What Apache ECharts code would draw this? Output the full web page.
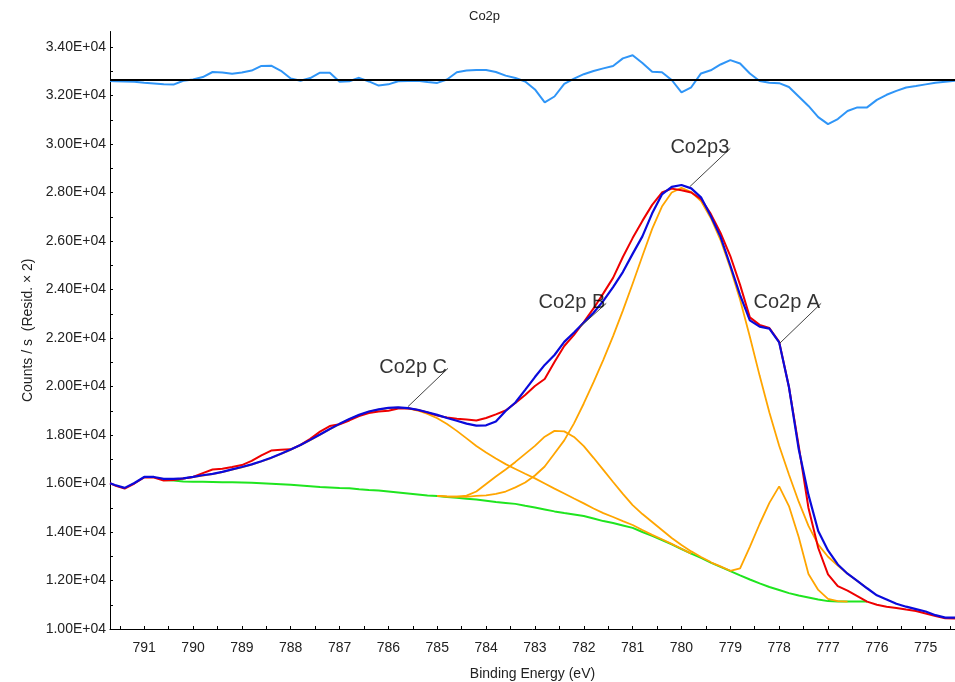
<!DOCTYPE html>
<html>
<head>
<meta charset="utf-8">
<title>Co2p</title>
<script src="https://cdn.jsdelivr.net/npm/echarts@6/dist/echarts.min.js"></script>
<style>
  html, body { margin: 0; padding: 0; background: #ffffff; }
  #chart { width: 955px; height: 682px; }
</style>
</head>
<body>
<div id="chart"></div>
<script>
// Binding energy grid (eV), shared by every curve
const energy = [
  791.7, 791.6, 791.4, 791.2, 791.0, 790.8, 790.6, 790.4, 790.2, 790.0,
  789.8, 789.6, 789.4, 789.2, 789.0, 788.8, 788.6, 788.4, 788.2, 788.0,
  787.8, 787.6, 787.4, 787.2, 787.0, 786.8, 786.6, 786.4, 786.2, 786.0,
  785.8, 785.6, 785.4, 785.2, 785.0, 784.8, 784.6, 784.4, 784.2, 784.0,
  783.8, 783.6, 783.4, 783.2, 783.0, 782.8, 782.6, 782.4, 782.2, 782.0,
  781.8, 781.6, 781.4, 781.2, 781.0, 780.8, 780.6, 780.4, 780.2, 780.0,
  779.8, 779.6, 779.4, 779.2, 779.0, 778.8, 778.6, 778.4, 778.2, 778.0,
  777.8, 777.6, 777.4, 777.2, 777.0, 776.8, 776.6, 776.4, 776.2, 776.0,
  775.8, 775.6, 775.4, 775.2, 775.0, 774.8, 774.6, 774.4
];

// Measured spectrum (counts / s)
const rawCounts = [
  16010, 15920, 15790, 16000, 16250, 16250, 16120, 16140, 16210, 16270,
  16430, 16580, 16610, 16680, 16760, 16930, 17160, 17360, 17390, 17410,
  17590, 17840, 18140, 18370, 18440, 18600, 18780, 18910, 18970, 19000,
  19090, 19100, 19030, 18930, 18800, 18720, 18670, 18640, 18600, 18700,
  18850, 19010, 19320, 19650, 20020, 20310, 21010, 21670, 22130, 22660,
  23220, 23840, 24480, 25340, 26120, 26830, 27490, 28000, 28160, 28090,
  28000, 27730, 27120, 26330, 25380, 24190, 22850, 22540, 22410, 21840,
  19980, 17550, 14990, 13340, 12250, 11770, 11580, 11360, 11130, 11000,
  10920, 10870, 10800, 10740, 10640, 10540, 10440, 10430
];

// Fitted envelope
const envelope = [
  16010, 15940, 15820, 16020, 16270, 16270, 16190, 16190, 16210, 16270,
  16340, 16400, 16480, 16580, 16680, 16790, 16920, 17060, 17230, 17400,
  17590, 17800, 18020, 18250, 18460, 18660, 18830, 18970, 19060, 19120,
  19140, 19110, 19040, 18940, 18830, 18700, 18590, 18470, 18390, 18400,
  18560, 18990, 19340, 19860, 20390, 20890, 21300, 21840, 22230, 22640,
  23040, 23530, 24100, 24720, 25470, 26190, 27140, 27920, 28230, 28310,
  28170, 27800, 27030, 26170, 24990, 23770, 22730, 22470, 22390, 21820,
  19980, 17420, 15530, 14040, 13240, 12660, 12280, 11980, 11680, 11390,
  11220, 11040, 10920, 10820, 10720, 10570, 10470, 10470
];

// Residual (x2), offset to sit on the baseline at the top of the plot
const residual = [
  32600, 32590, 32580, 32570, 32530, 32500, 32460, 32450, 32610, 32660,
  32760, 32970, 32950, 32900, 32950, 33030, 33220, 33230, 33020, 32700,
  32610, 32720, 32940, 32940, 32570, 32590, 32730, 32580, 32410, 32460,
  32590, 32600, 32610, 32560, 32520, 32660, 32960, 33030, 33050, 33050,
  32970, 32820, 32720, 32580, 32250, 31720, 31960, 32480, 32700, 32880,
  33010, 33120, 33220, 33530, 33660, 33340, 32980, 32960, 32640, 32130,
  32340, 32910, 33040, 33280, 33460, 33320, 32910, 32600, 32530, 32510,
  32350, 31960, 31570, 31110, 30820, 31030, 31360, 31510, 31510, 31820,
  32030, 32190, 32330, 32390, 32460, 32530, 32570, 32610
];
const residualBaseline = 32640;

// Background (fit region 790.6 - 776.2 eV)
const background = [
  null, null, null, null, null, null, 16140, 16120, 16080, 16070,
  16070, 16060, 16050, 16050, 16040, 16030, 16010, 15990, 15970, 15950,
  15920, 15890, 15860, 15840, 15810, 15800, 15760, 15730, 15710, 15670,
  15630, 15590, 15550, 15510, 15480, 15440, 15410, 15370, 15340, 15290,
  15240, 15200, 15160, 15080, 15010, 14930, 14850, 14780, 14720, 14660,
  14560, 14450, 14370, 14270, 14170, 14000, 13840, 13670, 13490, 13300,
  13110, 12930, 12740, 12560, 12390, 12210, 12040, 11880, 11730, 11610,
  11480, 11380, 11300, 11220, 11150, 11130, 11130, 11130, 11130, null,
  null, null, null, null, null, null, null, null
];

// Components (drawn on top of the background)
const compC = [
  null, null, null, null, null, null, 16140, 16180, 16200, 16260,
  16330, 16390, 16470, 16570, 16670, 16780, 16910, 17050, 17220, 17390,
  17580, 17790, 18010, 18240, 18450, 18650, 18820, 18960, 19050, 19110,
  19130, 19100, 19010, 18870, 18690, 18450, 18170, 17860, 17550, 17280,
  17030, 16800, 16600, 16400, 16210, 16000, 15790, 15590, 15380, 15180,
  14970, 14780, 14620, 14450, 14290, 14080, 13880, 13700, 13510, 13310,
  13110, null, null, null, null, null, null, null, null, null,
  null, null, null, null, null, null, null, null, null, null,
  null, null, null, null, null, null, null, null
];
const compB = [
  null, null, null, null, null, null, null, null, null, null,
  null, null, null, null, null, null, null, null, null, null,
  null, null, null, null, null, null, null, null, null, null,
  null, null, null, null, 15490, 15460, 15460, 15500, 15670, 15980,
  16290, 16580, 16890, 17220, 17550, 17930, 18170, 18150, 17920, 17540,
  17060, 16560, 16060, 15570, 15110, 14740, 14410, 14080, 13750, 13460,
  13200, 12970, 12760, null, null, null, null, null, null, null,
  null, null, null, null, null, null, null, null, null, null,
  null, null, null, null, null, null, null, null
];
const compP3 = [
  null, null, null, null, null, null, null, null, null, null,
  null, null, null, null, null, null, null, null, null, null,
  null, null, null, null, null, null, null, null, null, null,
  null, null, null, null, 15490, 15470, 15460, 15450, 15490, 15510,
  15570, 15670, 15840, 16040, 16330, 16700, 17240, 17780, 18480, 19300,
  20180, 21100, 22080, 23130, 24240, 25380, 26500, 27420, 28000, 28190,
  28020, 27650, 26950, 26040, 24890, 23580, 22050, 20450, 18930, 17560,
  16370, 15250, 14250, 13480, 12980, 12620, 12280, 11980, 11680, null,
  null, null, null, null, null, null, null, null
];
const compA = [
  null, null, null, null, null, null, null, null, null, null,
  null, null, null, null, null, null, null, null, null, null,
  null, null, null, null, null, null, null, null, null, null,
  null, null, null, null, null, null, null, null, null, null,
  null, null, null, null, null, null, null, null, null, null,
  null, null, null, null, null, null, null, null, null, null,
  null, null, 12750, 12580, 12400, 12500, 13390, 14330, 15200, 15880,
  15070, 13790, 12270, 11610, 11240, 11150, 11130, null, null, null,
  null, null, null, null, null, null, null, null
];

// Peak annotations: leader from a point on the fit to the label
const peakNames = ['Co2p C', 'Co2p B', 'Co2p3', 'Co2p A'];
const leaderFrom = [[785.6, 19170], [782.08, 22450], [779.83, 28240], [777.99, 21780]];
const leaderTo = [[784.78, 20750], [781.54, 23430], [779.0, 29820], [777.14, 23430]];

// Axis ticks and labels
const xLabelValues = [775, 776, 777, 778, 779, 780, 781, 782, 783, 784, 785, 786, 787, 788, 789, 790, 791];
const xTickValues = [774.5, 775, 775.5, 776, 776.5, 777, 777.5, 778, 778.5, 779, 779.5, 780, 780.5,
  781, 781.5, 782, 782.5, 783, 783.5, 784, 784.5, 785, 785.5, 786, 786.5, 787, 787.5,
  788, 788.5, 789, 789.5, 790, 790.5, 791, 791.5];
const yLabelValues = [10000, 12000, 14000, 16000, 18000, 20000, 22000, 24000, 26000, 28000, 30000, 32000, 34000];
const yTickValues = [10000, 11000, 12000, 13000, 14000, 15000, 16000, 17000, 18000, 19000, 20000, 21000,
  22000, 23000, 24000, 25000, 26000, 27000, 28000, 29000, 30000, 31000, 32000, 33000, 34000];

const FONT = '"Liberation Sans", Arial, sans-serif';

function pairs(values) {
  return energy.map((e, i) => [e, values[i]]).filter(p => p[1] !== null);
}

function sci(v) {
  const exp = Math.floor(Math.log10(v));
  const mant = v / Math.pow(10, exp);
  return mant.toFixed(2) + 'E+' + String(exp).padStart(2, '0');
}

function curve(name, values, color, width) {
  return {
    name: name,
    type: 'line',
    data: pairs(values),
    showSymbol: false,
    symbol: 'none',
    smooth: false,
    lineStyle: { color: color, width: width },
    emphasis: { disabled: true },
    z: 2
  };
}

const chart = echarts.init(document.getElementById('chart'), null, { renderer: 'canvas' });

chart.setOption({
  animation: false,
  backgroundColor: '#ffffff',
  textStyle: { fontFamily: FONT },
  title: {
    text: 'Co2p',
    left: 464,
    top: 5,
    textStyle: { fontFamily: FONT, fontSize: 13, fontWeight: 'normal', color: '#222' }
  },
  grid: { left: 110, right: 0, top: 31.5, bottom: 53, containLabel: false, outerBoundsMode: 'none' },
  xAxis: {
    type: 'value',
    inverse: true,
    min: 774.4,
    max: 791.7,
    name: 'Binding Energy (eV)',
    nameLocation: 'middle',
    nameGap: 38,
    nameTextStyle: { fontFamily: FONT, fontSize: 14, color: '#222' },
    axisLine: { show: true, onZero: false, lineStyle: { color: '#000', width: 1 } },
    axisTick: { show: true, inside: true, length: 3, customValues: xTickValues, lineStyle: { color: '#000' } },
    axisLabel: {
      customValues: xLabelValues,
      margin: 12,
      fontFamily: FONT,
      fontSize: 14,
      color: '#222',
      formatter: v => String(v)
    },
    splitLine: { show: false }
  },
  yAxis: {
    type: 'value',
    min: 10000,
    max: 34640,
    name: 'Counts / s  (Resid. \u00d7 2)',
    nameLocation: 'middle',
    nameGap: 75,
    nameTextStyle: { fontFamily: FONT, fontSize: 14, color: '#222' },
    axisLine: { show: true, lineStyle: { color: '#000', width: 1 } },
    axisTick: { show: true, inside: true, length: 3, customValues: yTickValues, lineStyle: { color: '#000' } },
    axisLabel: {
      customValues: yLabelValues,
      margin: 4,
      fontFamily: FONT,
      fontSize: 14,
      color: '#222',
      formatter: v => sci(v)
    },
    splitLine: { show: false }
  },
  series: [
    Object.assign(curve('Residual', residual, '#2f95f7', 2), {
      markLine: {
        silent: true,
        symbol: ['none', 'none'],
        label: { show: false },
        lineStyle: { color: '#000', width: 2, type: 'solid' },
        data: [{ yAxis: residualBaseline }]
      }
    }),
    curve('Background', background, '#1fe51f', 2),
    curve('Co2p C', compC, '#ffa500', 1.8),
    curve('Co2p B', compB, '#ffa500', 1.8),
    curve('Co2p3', compP3, '#ffa500', 1.8),
    curve('Co2p A', compA, '#ffa500', 1.8),
    curve('Data', rawCounts, '#ee0000', 2),
    curve('Envelope', envelope, '#0a0adc', 2.2),
    {
      name: 'Peak labels',
      type: 'scatter',
      symbolSize: 0,
      z: 5,
      data: leaderTo.map((p, i) => ({ value: p, name: peakNames[i] })),
      label: {
        show: true,
        position: 'left',
        distance: 1,
        offset: [0, -1],
        formatter: '{b}',
        fontFamily: FONT,
        fontSize: 20,
        color: '#000'
      },
      emphasis: { disabled: true },
      markLine: {
        silent: true,
        symbol: ['none', 'none'],
        label: { show: false },
        lineStyle: { color: '#444', width: 1, type: 'solid' },
        data: leaderFrom.map((f, i) => [{ coord: f }, { coord: leaderTo[i] }])
      }
    }
  ]
});
</script>
</body>
</html>
